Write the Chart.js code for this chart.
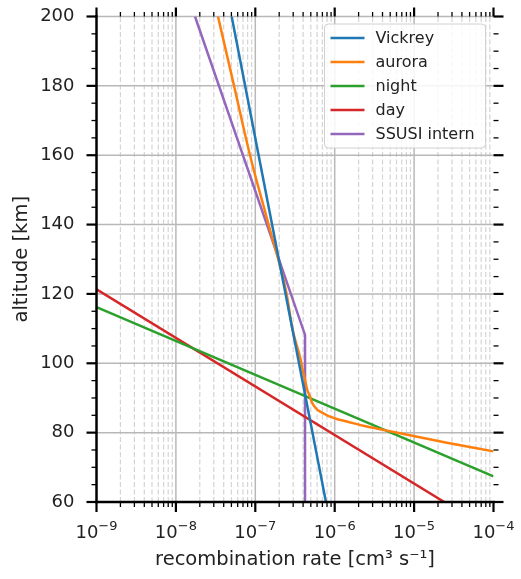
<!DOCTYPE html>
<html>
<head>
<meta charset="utf-8">
<title>Recombination rate vs altitude</title>
<script src="https://cdn.jsdelivr.net/npm/chart.js@4.4.1/dist/chart.umd.min.js"></script>
<style>
  html, body { margin: 0; padding: 0; background: #ffffff; }
  canvas { display: block; }
</style>
</head>
<body>
<canvas id="chart" width="521" height="579"></canvas>
<script>
// ---- data -------------------------------------------------------------
const seriesLabels = ['Vickrey', 'aurora', 'night', 'day', 'SSUSI intern'];
const seriesColors = ['#1f77b4', '#ff7f0e', '#2ca02c', '#d62728', '#9467bd'];

// recombination rate [cm^3 s^-1] against altitude [km]
const vickreyAltitude = [200, 60];
const vickreyRate     = [5.04e-8, 7.76e-7];

const auroraAltitude = [200, 180, 160, 140, 120, 110, 101, 98.1, 95.2, 92.3, 90.4, 88.9, 88.0, 86.8, 86.1,
                        85.3, 84.6, 83.8, 83.2, 82.0, 81.0, 79.8, 77.1, 74.6];
const auroraRate     = [3.39e-8, 5.40e-8, 8.57e-8, 1.47e-7, 2.48e-7, 2.93e-7, 3.73e-7, 3.95e-7, 4.23e-7, 4.52e-7,
                        4.89e-7, 5.13e-7, 5.38e-7, 5.93e-7, 6.53e-7, 7.55e-7, 8.73e-7, 1.11e-6, 1.42e-6, 2.30e-6,
                        3.72e-6, 6.64e-6, 2.58e-5, 1.0e-4];

const nightAltitude = [116.2, 67.4];
const nightRate     = [1e-9, 1e-4];

const dayAltitude = [121.3, 60];
const dayRate     = [1e-9, 2.40e-5];

const ssusiAltitude = [200, 108.2, 60];
const ssusiRate     = [1.74e-8, 4.23e-7, 4.23e-7];

// axis ticks
const rateTickExponents = [-9, -8, -7, -6, -5, -4];
const altitudeTicks = [60, 80, 100, 120, 140, 160, 180, 200];

// ---- styling ----------------------------------------------------------
const FONT = '"DejaVu Sans", "Liberation Sans", sans-serif';
const INK = '#222222';

function toPoints(rates, alts) {
  return rates.map((r, i) => ({ x: r, y: alts[i] }));
}

function makeDataset(i, rates, alts, extra) {
  return Object.assign({
    label: seriesLabels[i],
    data: toPoints(rates, alts),
    borderColor: seriesColors[i],
    backgroundColor: seriesColors[i],
    borderWidth: 2.5,
    pointRadius: 0,
    pointHoverRadius: 0,
    showLine: true,
    fill: false,
    tension: 0
  }, extra || {});
}

function strokeLine(ctx, x1, y1, x2, y2) {
  ctx.beginPath();
  ctx.moveTo(x1, y1);
  ctx.lineTo(x2, y2);
  ctx.stroke();
}

// grid, spines, tick marks, power-of-ten labels and the framed legend
const axesDecor = {
  id: 'axesDecor',
  beforeDatasetsDraw(chart) {
    const { ctx, chartArea: a, scales: { x, y } } = chart;
    ctx.save();
    // minor decade grid (dashed)
    ctx.strokeStyle = '#d4d4d4';
    ctx.lineWidth = 1.2;
    ctx.setLineDash([5, 2.5]);
    for (let j = 0; j < rateTickExponents.length - 1; j++) {
      for (let k = 2; k <= 9; k++) {
        const px = x.getPixelForValue(k * Math.pow(10, rateTickExponents[j]));
        strokeLine(ctx, px, a.bottom, px, a.top);
      }
    }
    // major grid
    ctx.setLineDash([]);
    ctx.strokeStyle = '#b8b8b8';
    ctx.lineWidth = 1.5;
    for (let j = 1; j < rateTickExponents.length - 1; j++) {
      const px = x.getPixelForValue(Math.pow(10, rateTickExponents[j]));
      strokeLine(ctx, px, a.bottom, px, a.top);
    }
    altitudeTicks.slice(1).forEach(v => {
      const py = y.getPixelForValue(v);
      strokeLine(ctx, a.left, py, a.right, py);
    });
    ctx.restore();
  },
  afterDatasetsDraw(chart) {
    const { ctx, chartArea: a, scales: { x, y } } = chart;
    ctx.save();
    ctx.strokeStyle = '#000000';
    ctx.lineCap = 'butt';

    // y tick marks on left and right
    const yMinor = [];
    for (let j = 0; j < altitudeTicks.length - 1; j++) {
      const step = (altitudeTicks[j + 1] - altitudeTicks[j]) / 4;
      for (let m = 1; m < 4; m++) yMinor.push(altitudeTicks[j] + m * step);
    }
    ctx.lineWidth = 1.3;
    yMinor.forEach(v => {
      const py = y.getPixelForValue(v);
      strokeLine(ctx, a.left - 5, py, a.left, py);
      strokeLine(ctx, a.right, py, a.right + 5, py);
    });
    ctx.lineWidth = 2.2;
    altitudeTicks.forEach(v => {
      const py = y.getPixelForValue(v);
      strokeLine(ctx, a.left - 10, py, a.left, py);
      strokeLine(ctx, a.right, py, a.right + 10, py);
    });

    // x tick marks on bottom and top
    ctx.lineWidth = 1.3;
    for (let j = 0; j < rateTickExponents.length - 1; j++) {
      for (let k = 2; k <= 9; k++) {
        const px = x.getPixelForValue(k * Math.pow(10, rateTickExponents[j]));
        strokeLine(ctx, px, a.bottom, px, a.bottom + 5);
        strokeLine(ctx, px, a.top - 4.5, px, a.top);
      }
    }
    ctx.lineWidth = 2.2;
    rateTickExponents.forEach(e => {
      const px = x.getPixelForValue(Math.pow(10, e));
      strokeLine(ctx, px, a.bottom, px, a.bottom + 10);
      strokeLine(ctx, px, a.top - 9, px, a.top);
    });

    // left and bottom spines
    ctx.lineWidth = 2.5;
    ctx.lineCap = 'square';
    strokeLine(ctx, a.left, a.top, a.left, a.bottom);
    strokeLine(ctx, a.left, a.bottom, a.right, a.bottom);

    // x tick labels as 10 with a raised exponent
    ctx.fillStyle = INK;
    ctx.textBaseline = 'alphabetic';
    ctx.textAlign = 'left';
    const baseSize = 18, expSize = 13;
    rateTickExponents.forEach(e => {
      const px = x.getPixelForValue(Math.pow(10, e));
      const baseText = '10';
      const expText = '\u2212' + Math.abs(e);
      ctx.font = baseSize + 'px ' + FONT;
      const wb = ctx.measureText(baseText).width;
      ctx.font = expSize + 'px ' + FONT;
      const we = ctx.measureText(expText).width;
      const x0 = px - (wb + we) / 2;
      const baseline = a.bottom + 36;
      ctx.font = baseSize + 'px ' + FONT;
      ctx.fillText(baseText, x0, baseline);
      ctx.font = expSize + 'px ' + FONT;
      ctx.fillText(expText, x0 + wb, baseline - 8);
    });

    // legend
    const boxW = 161, boxH = 124;
    const bx = a.right - 8 - boxW, by = a.top + 7.5;
    ctx.lineCap = 'butt';
    ctx.beginPath();
    ctx.roundRect(bx, by, boxW, boxH, 4);
    ctx.fillStyle = 'rgba(255,255,255,0.85)';
    ctx.fill();
    ctx.strokeStyle = '#d0d0d0';
    ctx.lineWidth = 1;
    ctx.stroke();
    ctx.font = '16px ' + FONT;
    ctx.textBaseline = 'middle';
    chart.data.datasets.forEach((ds, i) => {
      const ry = by + 14 + i * 24;
      ctx.strokeStyle = ds.borderColor;
      ctx.lineWidth = 2.5;
      strokeLine(ctx, bx + 6, ry, bx + 40, ry);
      ctx.fillStyle = INK;
      ctx.fillText(ds.label, bx + 51, ry + 0.5);
    });
    ctx.restore();
  }
};

new Chart(document.getElementById('chart'), {
  type: 'scatter',
  data: {
    datasets: [
      makeDataset(0, vickreyRate, vickreyAltitude),
      makeDataset(1, auroraRate, auroraAltitude, { cubicInterpolationMode: 'monotone' }),
      makeDataset(2, nightRate, nightAltitude),
      makeDataset(3, dayRate, dayAltitude),
      makeDataset(4, ssusiRate, ssusiAltitude)
    ]
  },
  options: {
    responsive: false,
    animation: false,
    events: [],
    layout: { padding: { top: 16.5, right: 27.5, left: 0, bottom: 0 } },
    plugins: {
      legend: { display: false },
      tooltip: { enabled: false },
      title: { display: false }
    },
    scales: {
      x: {
        type: 'logarithmic',
        position: 'bottom',
        min: Math.pow(10, rateTickExponents[0]),
        max: Math.pow(10, rateTickExponents[rateTickExponents.length - 1]),
        grid: { display: false },
        border: { display: false },
        ticks: { display: false },
        title: {
          display: true,
          text: 'recombination rate [cm\u00B3 s\u207B\u00B9]',
          color: INK,
          font: { family: FONT, size: 19.5 },
          padding: { top: 0, bottom: 7 }
        },
        afterFit(scale) {
          scale.height = 77;
          scale.paddingLeft = 0;
          scale.paddingRight = 0;
        }
      },
      y: {
        type: 'linear',
        position: 'left',
        min: altitudeTicks[0],
        max: altitudeTicks[altitudeTicks.length - 1],
        afterBuildTicks(scale) {
          scale.ticks = altitudeTicks.map(v => ({ value: v }));
        },
        grid: { display: false, drawTicks: false },
        border: { display: false },
        ticks: {
          color: INK,
          font: { family: FONT, size: 18 },
          padding: 22
        },
        title: {
          display: true,
          text: 'altitude [km]',
          color: INK,
          font: { family: FONT, size: 19.5 },
          padding: { top: 10, bottom: 0 }
        },
        afterFit(scale) {
          scale.width = 96.5;
          scale.paddingTop = 0;
          scale.paddingBottom = 0;
        }
      }
    }
  },
  plugins: [axesDecor]
});
</script>
</body>
</html>
